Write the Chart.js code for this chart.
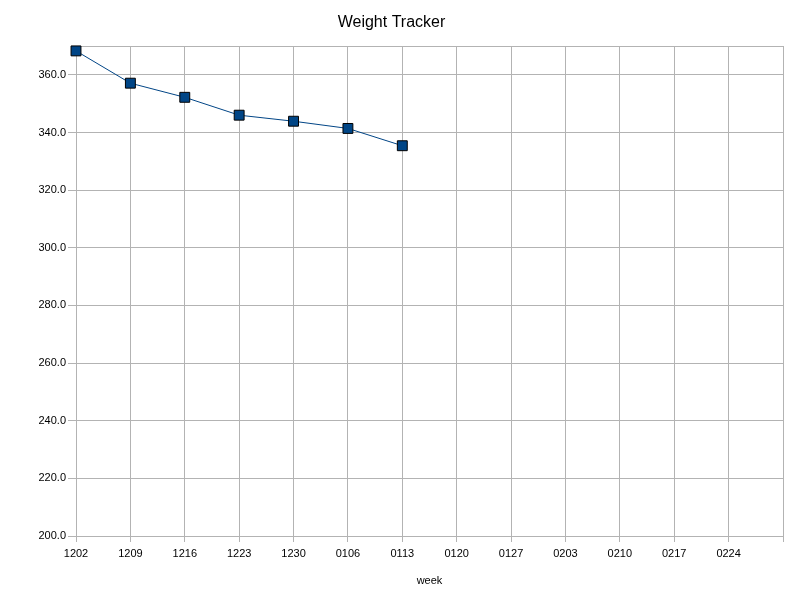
<!DOCTYPE html>
<html>
<head>
<meta charset="utf-8">
<script src="https://cdn.jsdelivr.net/npm/chart.js@4"></script>
<style>
  html, body { margin: 0; padding: 0; background: #fff; }
  #wrap { width: 800px; height: 600px; }
</style>
</head>
<body>
<div id="wrap"><canvas id="myChart" width="800" height="600"></canvas></div>
<script>
// week labels (last slot is the empty right edge)
const weeks = ["1202", "1209", "1216", "1223", "1230", "0106", "0113", "0120", "0127", "0203", "0210", "0217", "0224", ""];
const weights = [368.3, 357.1, 352.2, 346.0, 343.9, 341.4, 335.4, null, null, null, null, null, null, null];
const yMin = 200;
const yMax = 370;
const yStep = 20;

const FONT = "'Liberation Sans', Arial, sans-serif";

function drawChart() {
  const ctx = document.getElementById("myChart").getContext("2d");

  new Chart(ctx, {
    type: "line",
    data: {
      labels: weeks,
      datasets: [
        {
          label: "weight",
          data: weights,
          borderColor: "#004586",
          borderWidth: 1,
          backgroundColor: "#004586",
          pointStyle: "rect",
          pointRadius: 7,
          pointBorderColor: "#000000",
          pointBorderWidth: 1,
          pointBackgroundColor: "#004586",
          tension: 0,
          clip: false,
        },
      ],
    },
    options: {
      responsive: false,
      animation: false,
      layout: { padding: { left: 0, right: 17, top: 0, bottom: 0 } },
      plugins: {
        legend: { display: false },
        tooltip: { enabled: false },
        title: {
          display: true,
          text: "Weight Tracker",
          color: "#000",
          font: { family: FONT, size: 16, weight: "normal" },
          padding: { top: 13, bottom: 13.8 },
        },
      },
      scales: {
        x: {
          type: "category",
          offset: false,
          grid: {
            color: "#b3b3b3",
            tickColor: "#b3b3b3",
            tickLength: 6,
            drawOnChartArea: true,
          },
          border: { color: "#b3b3b3" },
          ticks: {
            color: "#000",
            font: { family: FONT, size: 11 },
            padding: 5,
            maxRotation: 0,
            autoSkip: false,
          },
          title: {
            display: true,
            text: "week",
            color: "#000",
            font: { family: FONT, size: 11 },
            padding: { top: 4, bottom: 12 },
          },
          afterFit: (scale) => { scale.height = 64; },
        },
        y: {
          min: yMin,
          max: yMax,
          grid: {
            color: "#b3b3b3",
            tickColor: (c) => (c.tick && c.tick.value === yMax ? "rgba(0,0,0,0)" : "#b3b3b3"),
            tickLength: 8,
          },
          border: { color: "#b3b3b3" },
          ticks: {
            stepSize: yStep,
            color: "#000",
            font: { family: FONT, size: 11 },
            padding: 2,
            callback: (v) => (v === yMax ? "" : Number(v).toFixed(1)),
          },
          afterFit: (scale) => { scale.width = 76; },
        },
      },
    },
  });
}

drawChart();
</script>
</body>
</html>
